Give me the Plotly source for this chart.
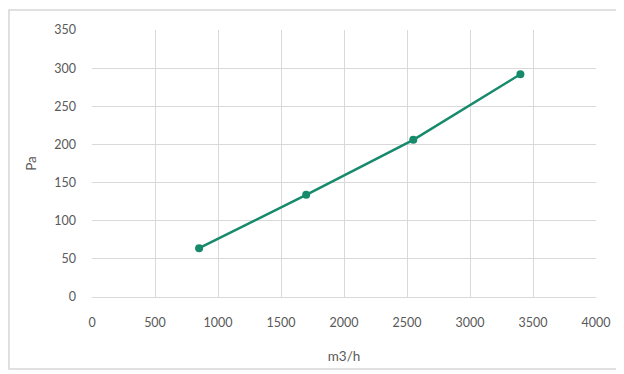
import plotly.graph_objects as go

# 风量 vs 压力
flow = [850, 1700, 2550, 3400]
pressure = [64, 134, 206, 292]

x_ticks = [0, 500, 1000, 1500, 2000, 2500, 3000, 3500, 4000]
y_ticks = [0, 50, 100, 150, 200, 250, 300, 350]

line_color = "#178a6c"
grid_color = "#d9d9d9"
text_color = "#595959"

fig = go.Figure(go.Scatter(
    x=flow,
    y=pressure,
    mode="lines+markers",
    line=dict(color=line_color, width=2.5),
    marker=dict(color=line_color, size=8),
    showlegend=False
))

# 页面自带 8px 边距，这里的边距已经扣掉
fig.update_layout(
    width=624,
    height=374,
    paper_bgcolor="white",
    plot_bgcolor="white",
    margin=dict(l=84, r=36, t=22, b=85),
    font=dict(family="Lato, Open Sans, sans-serif", size=12.5, color=text_color),
    shapes=[dict(
        type="rect", xref="paper", yref="paper",
        x0=-0.1647, x1=1.0476, y0=-0.2697, y1=1.0749,
        line=dict(color="#d6d6d6", width=1.5),
        layer="below"
    )]
)

fig.update_xaxes(
    range=[0, 4000],
    tickvals=x_ticks,
    showgrid=True, gridcolor=grid_color, gridwidth=1,
    zeroline=False,
    showline=True, linecolor=grid_color,
    ticks="", ticklabelstandoff=14,
    title=dict(text="m3/h", font=dict(size=13.5, color=text_color), standoff=22)
)
fig.update_yaxes(
    range=[0, 350],
    tickvals=y_ticks,
    showgrid=True, gridcolor=grid_color, gridwidth=1,
    zeroline=False,
    ticks="", ticklabelstandoff=15,
    title=dict(text="Pa", font=dict(size=13.5, color=text_color), standoff=14)
)

fig.write_html("out.html")
